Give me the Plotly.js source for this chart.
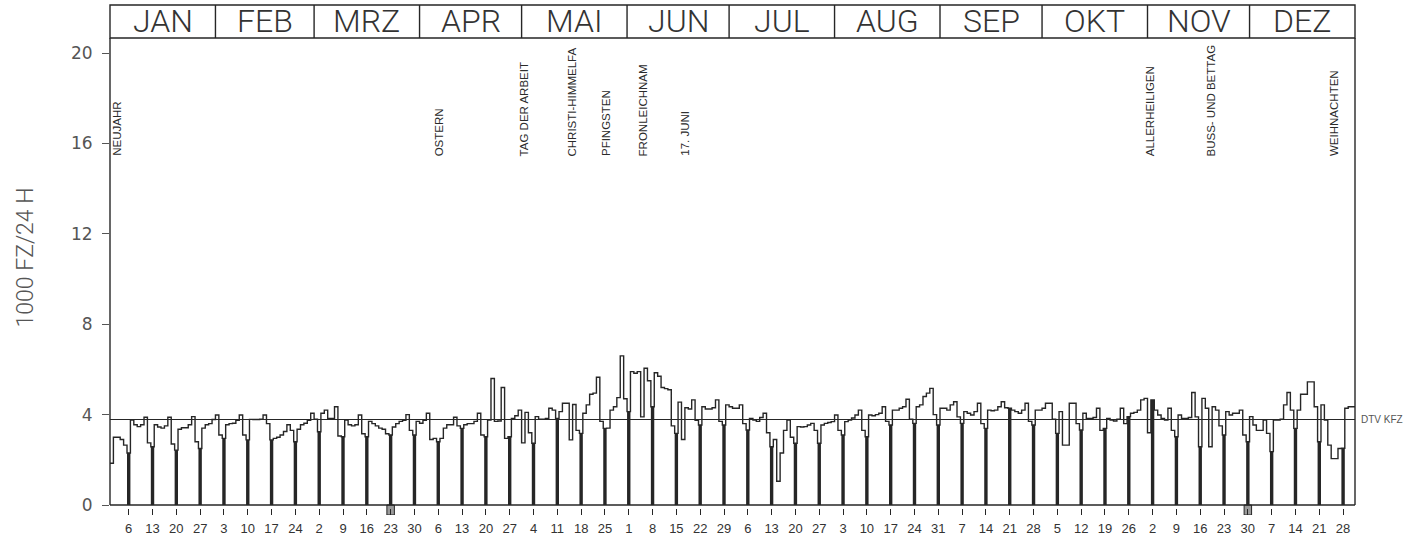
<!DOCTYPE html>
<html><head><meta charset="utf-8">
<script src="https://cdn.plot.ly/plotly-3.0.1.min.js"></script>
<style>html,body{margin:0;padding:0;background:#fff;}#chart{width:1413px;height:542px;}</style>
</head><body><div id="chart"></div>
<script>
const year = 1980;
const monthNames = ['JAN','FEB','MRZ','APR','MAI','JUN','JUL','AUG','SEP','OKT','NOV','DEZ'];
// daily traffic volumes, 1000 vehicles / 24 h
const jan = [1.85,3.0,3.0,2.9,2.65,2.3, 3.76,3.55,3.47,3.55,3.88,2.75,2.58, 3.55,3.45,3.4,3.5,3.88,2.7,2.43, 3.35,3.42,3.42,3.55,3.91,2.8,2.5, 3.4,3.55,3.6,3.78];
const feb = [3.98,3.1,2.95, 3.55,3.6,3.62,3.75,3.98,3.1,2.88, 3.79,3.78,3.78,3.8,3.98,3.6,2.88, 2.95,3.0,3.1,3.25,3.55,3.3,2.8, 3.35,3.55,3.62,3.75,4.06];
const mar = [3.8,3.24, 4.06,4.2,3.83,3.83,4.35,3.05,3.02, 3.76,3.55,3.5,3.55,3.98,3.15,3.02, 3.7,3.6,3.5,3.4,3.35,3.15,3.1, 3.45,3.6,3.7,3.75,4.0,3.3,3.1, 3.7];
const apr = [3.62,3.75,4.06,2.9,2.95,2.8, 2.95,3.4,3.55,3.55,3.88,3.5,3.39, 3.55,3.6,3.6,3.7,4.06,3.1,3.02, 3.76,5.6,3.7,3.72,5.2,2.95,3.02, 3.83,3.95,4.2];
const may = [2.75,4.1,3.2,2.73, 3.91,3.8,3.8,3.83,4.28,4.2,3.83, 4.13,4.5,4.5,2.88,4.45,3.3,3.17, 4.06,4.43,4.9,4.95,5.65,3.7,3.39, 3.4,4.2,4.35,4.75,6.6,4.7];
const jun = [4.13, 5.9,5.83,5.9,3.9,6.05,5.5,4.35, 5.85,5.7,5.2,5.15,5.1,3.5,3.17, 4.55,2.9,4.3,4.25,4.65,3.75,3.54, 4.35,4.25,4.25,4.3,4.65,3.7,3.54, 4.43];
const jul = [4.35,4.28,4.28,4.43,3.6,3.32, 3.83,3.76,3.7,3.87,4.06,3.2,2.58, 2.9,1.05,2.3,3.3,3.76,3.0,2.73, 3.47,3.45,3.47,3.54,3.61,3.3,2.73, 3.54,3.61,3.65,3.69];
const aug = [3.98,3.3,3.1, 3.69,3.76,3.85,3.98,4.2,3.3,3.02, 3.98,3.95,4.0,4.06,4.35,3.7,3.54, 4.2,4.2,4.28,4.35,4.68,3.8,3.61, 4.35,4.43,4.8,4.95,5.16,4.0,3.54];
const sep = [4.28,4.28,4.2,4.43,4.57,3.9,3.61, 4.13,4.06,3.98,4.13,4.5,3.6,3.39, 4.2,4.17,4.2,4.35,4.57,4.3,4.28, 4.2,4.13,4.06,4.2,4.5,3.7,3.54, 4.2,4.2];
const okt = [4.28,4.5,4.5,3.8,3.17, 4.13,2.65,2.65,4.5,4.5,3.6,3.32, 4.06,3.83,3.83,3.87,4.28,3.3,3.39, 3.83,3.76,3.72,3.8,4.28,3.6,3.91, 4.06,4.1,4.2,4.65,4.72];
const nov = [3.2,4.65, 4.2,3.98,3.83,3.76,4.28,3.3,3.02, 3.98,3.83,3.83,3.87,4.98,3.9,2.58, 4.72,4.28,2.58,4.35,4.2,3.5,3.1, 4.13,3.98,4.06,4.06,4.2,3.1,2.8];
const dez = [3.91,3.54,3.3,3.3,3.76,3.17,2.36, 3.76,3.76,3.8,4.43,4.98,4.2,3.39, 4.2,4.9,4.9,5.45,5.45,4.35,2.8, 4.43,3.76,2.65,2.05,2.05,2.5,2.51, 4.28,4.35,4.35];
const dtv = 3.78;
const dtvLabel = 'DTV KFZ';
const holidayNames = ['NEUJAHR','OSTERN','TAG DER ARBEIT','CHRISTI-HIMMELFA','PFINGSTEN','FRONLEICHNAM','17. JUNI','ALLERHEILIGEN','BUSS- UND BETTAG','WEIHNACHTEN'];
const holidayDates = ['1980-01-01','1980-04-06','1980-05-01','1980-05-15','1980-05-25','1980-06-05','1980-06-17','1980-11-01','1980-11-19','1980-12-25'];
const gapDates = ['1980-03-23','1980-11-30'];
const yTicks = [0,4,8,12,16,20];
const yTitle = '1000 FZ/24 H';

// ---- build
const DAY = 86400000;
const fmt = ms => { const s = new Date(ms).toISOString(); return s.slice(0,10)+' '+s.slice(11,19); };
const months = [jan,feb,mar,apr,may,jun,jul,aug,sep,okt,nov,dez];
const dayX = [], dayY = [], sunX = [], sunY = [];
const monthStart = [], monthMid = [];
months.forEach((arr, m) => {
  const t0 = Date.UTC(year, m, 1);
  monthStart.push(fmt(t0));
  monthMid.push(fmt(t0 + arr.length/2*DAY));
  arr.forEach((v, i) => {
    const t = Date.UTC(year, m, i+1);
    dayX.push(fmt(t)); dayY.push(v);
    if (new Date(t).getUTCDay() === 0) { sunX.push(fmt(t + DAY/2)); sunY.push(v); }
  });
});
const tEnd = Date.UTC(year+1, 0, 1);
dayX.push(fmt(tEnd)); dayY.push(dayY[dayY.length-1]);
const xr = [fmt(Date.UTC(year,0,1)), fmt(tEnd)];
const yr = [-0.4425, 20.664];
const hdrTop = 1 + 33/477;
const ink = '#262626';

const traces = [
  {type:'bar', x:sunX, y:sunY, width:1.0*DAY, marker:{color:ink, line:{width:0}}, hoverinfo:'skip'},
  {type:'bar', x:gapDates.map(d=>d+' 12:00'), y:gapDates.map(()=>-yr[0]), base:yr[0], width:2.2*DAY,
   marker:{color:'#9a9a9a', line:{color:ink, width:1}}, hoverinfo:'skip'},
  {type:'scatter', mode:'lines', x:dayX, y:dayY, line:{shape:'hv', color:ink, width:1.4}, hoverinfo:'skip'}
];

const shapes = [
  {type:'rect', xref:'paper', yref:'paper', x0:0, x1:1, y0:1, y1:hdrTop, line:{color:ink, width:1.4}},
  {type:'line', xref:'paper', yref:'y', x0:0, x1:0, y0:0, y1:yr[1], line:{color:ink, width:1.4}},
  {type:'line', xref:'paper', yref:'y', x0:1, x1:1, y0:0, y1:yr[1], line:{color:ink, width:1.4}},
  {type:'line', xref:'paper', yref:'y', x0:0, x1:1, y0:0, y1:0, line:{color:ink, width:1.4}},
  {type:'line', xref:'paper', yref:'y', x0:0, x1:1, y0:dtv, y1:dtv, line:{color:ink, width:1.1}}
];
monthStart.slice(1).forEach(x => shapes.push({type:'line', xref:'x', yref:'paper', x0:x, x1:x, y0:1, y1:hdrTop, line:{color:ink, width:1.4}}));

const annotations = [];
monthNames.forEach((n, i) => annotations.push({x:monthMid[i], xref:'x', yref:'paper', y:(1+hdrTop)/2, yanchor:'middle', xanchor:'center',
  text:n, showarrow:false, font:{family:'Roboto, Liberation Sans, sans-serif', weight:300, size:32, color:'#333'}}));
holidayNames.forEach((n, i) => annotations.push({x:holidayDates[i]+' 12:00', xref:'x', yref:'y', y:15.35, yanchor:'bottom', xanchor:'center',
  xshift: i===0 ? 5 : 1, textangle:-90, text:n, showarrow:false, font:{family:'Liberation Sans, Arial, sans-serif', size:11.5, color:'#2a2a2a'}}));
annotations.push({x:1, xref:'paper', y:dtv, yref:'y', xanchor:'left', yanchor:'middle', xshift:4, text:dtvLabel, showarrow:false,
  font:{family:'Liberation Sans, Arial, sans-serif', size:10, color:'#555'}});
annotations.push({x:0, xref:'paper', xshift:-85, y:0.54, yref:'paper', xanchor:'center', yanchor:'middle', textangle:-90, text:yTitle,
  showarrow:false, font:{family:'Roboto, DejaVu Sans, sans-serif', weight:300, size:23, color:'#555'}});

const layout = {
  width:1413, height:542, margin:{l:110, r:58, t:38, b:27},
  paper_bgcolor:'#fff', plot_bgcolor:'#fff', showlegend:false, barmode:'overlay', hovermode:false,
  xaxis:{type:'date', range:xr, showgrid:false, zeroline:false, showline:false,
    tickmode:'array', tickvals:sunX, tickformat:'%-d', ticks:'inside', ticklen:6, tickcolor:ink, tickwidth:1,
    ticklabelstandoff:4, tickfont:{family:'Liberation Sans, Arial, sans-serif', size:13, color:'#333'}},
  yaxis:{range:yr, showgrid:false, zeroline:false, showline:false, tickmode:'array', tickvals:yTicks,
    ticks:'outside', ticklen:7, tickcolor:'#555', tickwidth:1, ticklabelstandoff:6,
    tickfont:{family:'DejaVu Sans, sans-serif', size:17, color:'#555'}},
  shapes, annotations
};
Plotly.newPlot('chart', traces, layout, {staticPlot:true, displayModeBar:false});
</script></body></html>
